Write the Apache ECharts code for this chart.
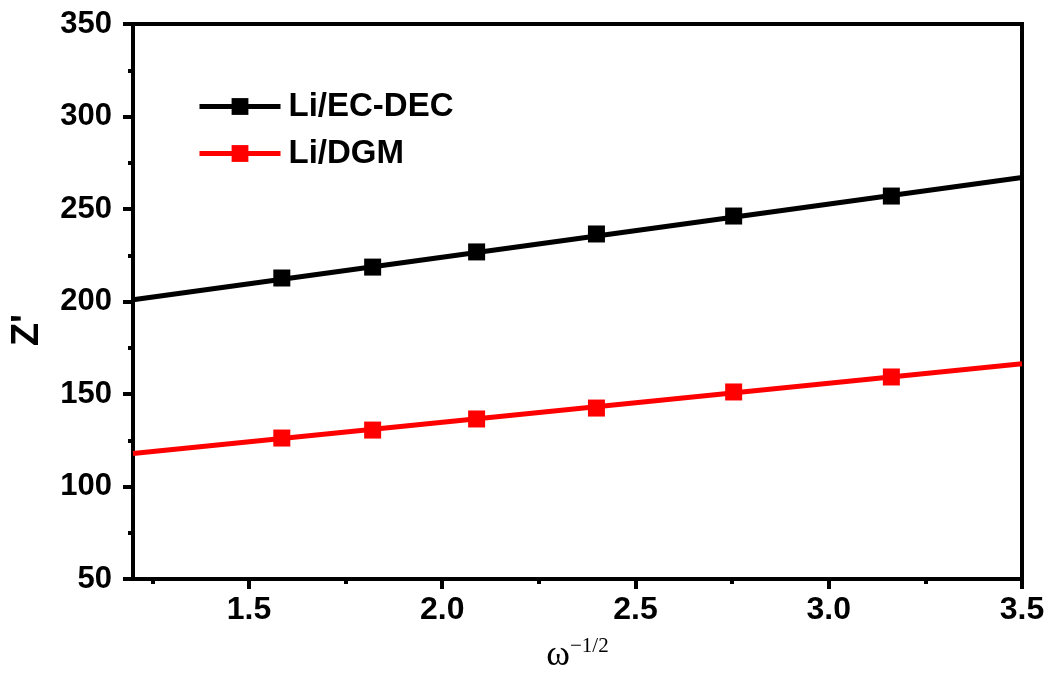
<!DOCTYPE html>
<html>
<head>
<meta charset="utf-8">
<script src="https://cdn.jsdelivr.net/npm/echarts@6/dist/echarts.min.js"></script>
<style>
html,body{margin:0;padding:0;background:#fff;}
#chart{width:1054px;height:682px;}
</style>
</head>
<body>
<div id="chart"></div>
<script>
// Data
const xValues = [1.585, 1.820, 2.089, 2.399, 2.754, 3.162];
const ecdecValues = [212.7, 218.6, 226.8, 236.5, 246.2, 257.0];
const dgmValues = [126.2, 130.5, 136.5, 142.4, 151.1, 159.2];
const fitX = [1.2, 3.5];
const ecdecFit = [201.0, 267.0];
const dgmFit = [117.8, 166.4];
const xMajorTicks = [1.5, 2.0, 2.5, 3.0, 3.5];
const xMinorTicks = [1.25, 1.75, 2.25, 2.75, 3.25];
const seriesNames = ['Li/EC-DEC', 'Li/DGM'];

const pairs = (xs, ys) => xs.map((x, i) => [x, ys[i]]);
const FONT = 'Liberation Sans, Arial, sans-serif';
const SERIF = 'Liberation Serif, Times New Roman, serif';

const chart = echarts.init(document.getElementById('chart'));
chart.setOption({
  backgroundColor: '#fff',
  animation: false,
  grid: {
    left: 133, right: 32, top: 24, bottom: 103,
    show: true, borderColor: '#000', borderWidth: 4, backgroundColor: 'transparent'
  },
  legend: {
    orient: 'vertical',
    left: 192, top: 85,
    itemWidth: 81, itemHeight: 21, itemGap: 14,
    data: seriesNames,
    lineStyle: { opacity: 1, width: 5 },
    textStyle: { fontFamily: FONT, fontWeight: 'bold', fontSize: 33, color: '#000', padding: [0, 0, 0, 3] }
  },
  xAxis: [{
    type: 'value', min: 1.2, max: 3.5,
    name: '{w|ω}{s|−1/2}',
    nameLocation: 'middle', nameGap: 57,
    nameTextStyle: {
      rich: {
        w: { fontFamily: SERIF, fontSize: 36, color: '#000', verticalAlign: 'bottom', lineHeight: 38 },
        s: { fontFamily: SERIF, fontSize: 21, color: '#000', verticalAlign: 'top', lineHeight: 38 }
      }
    },
    axisLine: { show: true, onZero: false, lineStyle: { color: '#000', width: 4 } },
    axisTick: { show: true, inside: false, length: 10, customValues: xMajorTicks, lineStyle: { color: '#000', width: 4 } },
    axisLabel: { customValues: xMajorTicks, margin: 15, fontFamily: FONT, fontWeight: 'bold', fontSize: 32, color: '#000',
      formatter: v => v.toFixed(1) },
    splitLine: { show: false }
  }, {
    type: 'value', min: 1.2, max: 3.5, position: 'bottom',
    axisLine: { show: false },
    axisTick: { show: true, inside: false, length: 5, customValues: xMinorTicks, lineStyle: { color: '#000', width: 4 } },
    axisLabel: { show: false },
    splitLine: { show: false }
  }],
  yAxis: {
    type: 'value', min: 50, max: 350, interval: 50,
    axisLine: { show: true, onZero: false, lineStyle: { color: '#000', width: 4 } },
    axisTick: { show: true, inside: false, length: 10, lineStyle: { color: '#000', width: 4 } },
    minorTick: { show: true, splitNumber: 2, length: 5, lineStyle: { color: '#000', width: 4 } },
    axisLabel: { margin: 21, fontFamily: FONT, fontWeight: 'bold', fontSize: 31, color: '#000' },
    splitLine: { show: false }
  },
  graphic: [{
    type: 'text', x: 28, y: 330, rotation: Math.PI / 2,
    style: { text: "Z'", fontFamily: FONT, fontWeight: 'bold', fontSize: 38, fill: '#000', align: 'center', verticalAlign: 'middle' }
  }],
  series: [
    { name: 'fit EC-DEC', type: 'line', data: pairs(fitX, ecdecFit), symbol: 'none', z: 2,
      lineStyle: { color: '#000', width: 5 }, itemStyle: { color: '#000' } },
    { name: 'fit DGM', type: 'line', data: pairs(fitX, dgmFit), symbol: 'none', z: 2,
      lineStyle: { color: '#ff0000', width: 5 }, itemStyle: { color: '#ff0000' } },
    { name: seriesNames[0], type: 'line', data: pairs(xValues, ecdecValues), symbol: 'rect', symbolSize: 17, z: 3,
      lineStyle: { color: '#000', width: 5, opacity: 0 }, itemStyle: { color: '#000' } },
    { name: seriesNames[1], type: 'line', data: pairs(xValues, dgmValues), symbol: 'rect', symbolSize: 17, z: 3,
      lineStyle: { color: '#ff0000', width: 5, opacity: 0 }, itemStyle: { color: '#ff0000' } }
  ]
});
</script>
</body>
</html>
